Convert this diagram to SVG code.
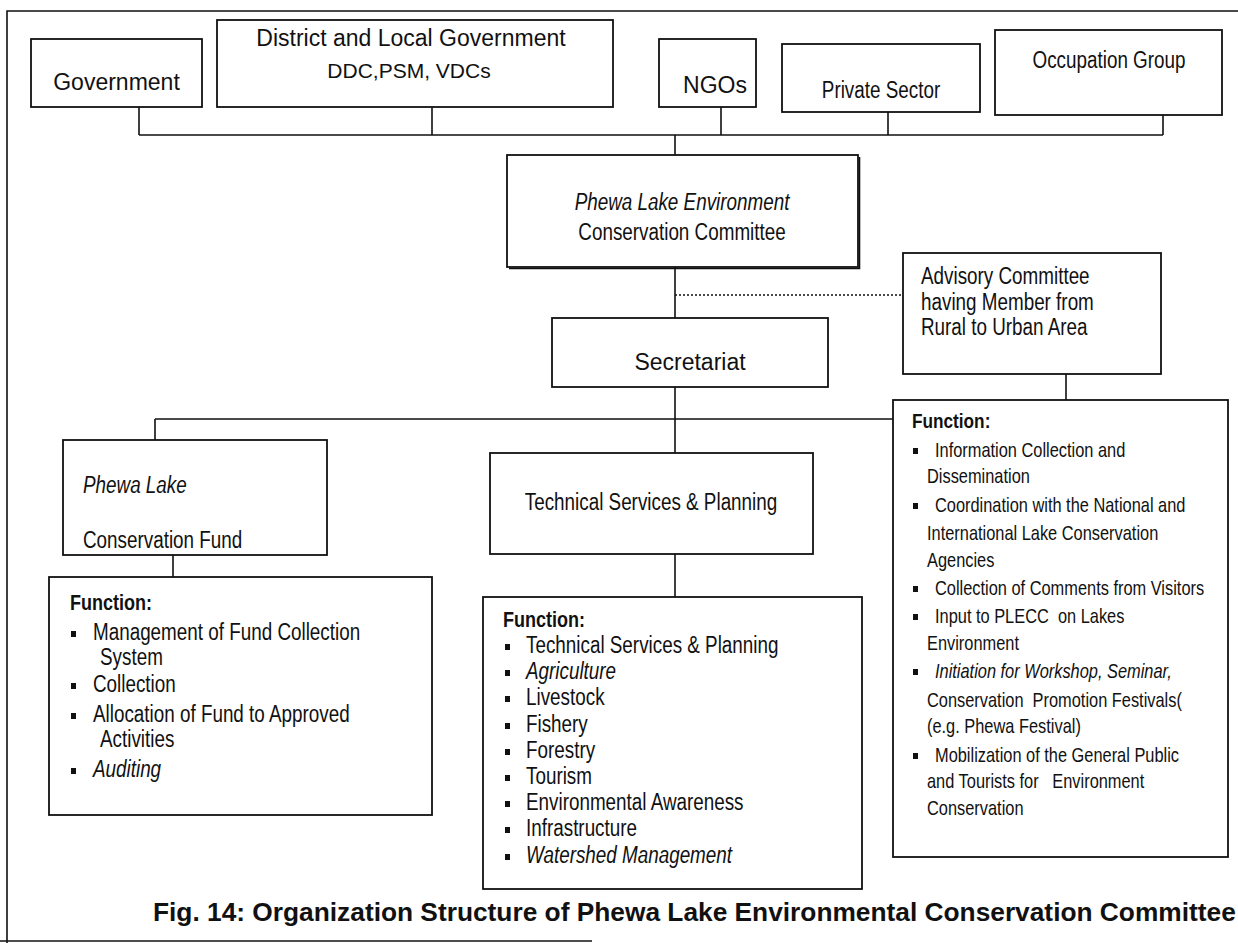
<svg xmlns="http://www.w3.org/2000/svg" width="1238" height="943" viewBox="0 0 1238 943">
<style>
.box{fill:none;stroke:#111;stroke-width:1.8}
.ln{fill:none;stroke:#111;stroke-width:1.6}
.dot{fill:none;stroke:#111;stroke-width:1.3;stroke-dasharray:2 2}
.r{font-family:"Liberation Sans",Arial,sans-serif;fill:#111}
.n{font-family:"Liberation Sans",Arial,sans-serif;fill:#111}
.c{text-anchor:middle}
.i{font-style:italic}
.b{font-weight:bold}
.bul{fill:#111}
.f23{font-size:23px}
.f20{font-size:20px}
</style>
<rect width="1238" height="943" fill="#fff"/>
<g id="frame">
<path class="ln" d="M7,943 V11 H1238" stroke-width="2.5"/>
<path class="ln" d="M0,941 H592" stroke-width="2"/>
</g>
<g id="connectors">
<path class="ln" d="M139,135 H1163 M139,107 V135 M432,107 V135 M721,107 V135 M888,112 V135 M1163,115 V135 M675,135 V155"/>
<path class="ln" d="M675,267 V318 M675,387 V453 M155,419 H893 M155,419 V440 M1066,374 V400 M173,555 V577 M675,554 V597"/>
<path class="dot" d="M675,295 H903"/>
</g>
<g id="government">
<rect class="box" x="31" y="39" width="171" height="68"/>
<text class="r c" x="116.5" y="90" font-size="23">Government</text>
</g>
<g id="district">
<rect class="box" x="217" y="20" width="396" height="87"/>
<text class="r c" x="411" y="46" font-size="23">District and Local Government</text>
<text class="r c" x="409" y="78" font-size="21">DDC,PSM, VDCs</text>
</g>
<g id="ngos">
<rect class="box" x="659" y="39" width="97" height="68"/>
<text class="r c" x="715" y="93" font-size="23">NGOs</text>
</g>
<g id="private">
<rect class="box" x="782" y="44" width="198" height="68"/>
<text class="n c f23" transform="translate(881,98) scale(0.82,1)">Private Sector</text>
</g>
<g id="occupation">
<rect class="box" x="995" y="30" width="227" height="85"/>
<text class="n c f23" transform="translate(1109,68) scale(0.82,1)">Occupation Group</text>
</g>
<g id="plecc">
<rect class="box" x="507" y="155" width="351" height="112" stroke-width="2"/>
<path class="ln" d="M509,268.5 H859.5 V157" stroke-width="2.5"/>
<text class="n c i f23" transform="translate(682,210) scale(0.82,1)">Phewa Lake Environment</text>
<text class="n c f23" transform="translate(682,240) scale(0.82,1)">Conservation Committee</text>
</g>
<g id="secretariat">
<rect class="box" x="552" y="318" width="276" height="69"/>
<text class="r c" x="690" y="370" font-size="23">Secretariat</text>
</g>
<g id="advisory">
<rect class="box" x="903" y="253" width="258" height="121"/>
<text class="n f23" transform="translate(921,284) scale(0.82,1)">Advisory Committee</text>
<text class="n f23" transform="translate(921,310) scale(0.82,1)">having Member from</text>
<text class="n f23" transform="translate(921,335) scale(0.82,1)">Rural to Urban Area</text>
</g>
<g id="fund">
<rect class="box" x="63" y="440" width="264" height="115"/>
<text class="n i f23" transform="translate(83,493) scale(0.82,1)">Phewa Lake</text>
<text class="n f23" transform="translate(83,548) scale(0.82,1)">Conservation Fund</text>
</g>
<g id="tsp">
<rect class="box" x="490" y="453" width="323" height="101"/>
<text class="n c f23" transform="translate(651,510) scale(0.82,1)">Technical Services &amp; Planning</text>
</g>
<g id="fund-functions">
<rect class="box" x="49" y="577" width="383" height="238"/>
<text class="n b" transform="translate(70,610) scale(0.82,1)" font-size="22">Function:</text>
<rect class="bul" x="71" y="631" width="5" height="6"/>
<text class="n f23" transform="translate(93,640) scale(0.82,1)">Management of Fund Collection</text>
<text class="n f23" transform="translate(100,665) scale(0.82,1)">System</text>
<rect class="bul" x="71" y="683" width="5" height="6"/>
<text class="n f23" transform="translate(93,692) scale(0.82,1)">Collection</text>
<rect class="bul" x="71" y="713" width="5" height="6"/>
<text class="n f23" transform="translate(93,722) scale(0.82,1)">Allocation of Fund to Approved</text>
<text class="n f23" transform="translate(100,747) scale(0.82,1)">Activities</text>
<rect class="bul" x="71" y="768" width="5" height="6"/>
<text class="n i f23" transform="translate(93,777) scale(0.82,1)">Auditing</text>
</g>
<g id="tsp-functions">
<rect class="box" x="483" y="597" width="379" height="292"/>
<text class="n b" transform="translate(503,627) scale(0.82,1)" font-size="22">Function:</text>
<g class="bul">
<rect x="505" y="644" width="5" height="6"/>
<rect x="505" y="670" width="5" height="6"/>
<rect x="505" y="696" width="5" height="6"/>
<rect x="505" y="723" width="5" height="6"/>
<rect x="505" y="749" width="5" height="6"/>
<rect x="505" y="775" width="5" height="6"/>
<rect x="505" y="801" width="5" height="6"/>
<rect x="505" y="827" width="5" height="6"/>
<rect x="505" y="854" width="5" height="6"/>
</g>
<text class="n f23" transform="translate(526,653) scale(0.82,1)">Technical Services &amp; Planning</text>
<text class="n i f23" transform="translate(526,679) scale(0.82,1)">Agriculture</text>
<text class="n f23" transform="translate(526,705) scale(0.82,1)">Livestock</text>
<text class="n f23" transform="translate(526,732) scale(0.82,1)">Fishery</text>
<text class="n f23" transform="translate(526,758) scale(0.82,1)">Forestry</text>
<text class="n f23" transform="translate(526,784) scale(0.82,1)">Tourism</text>
<text class="n f23" transform="translate(526,810) scale(0.82,1)">Environmental Awareness</text>
<text class="n f23" transform="translate(526,836) scale(0.82,1)">Infrastructure</text>
<text class="n i f23" transform="translate(526,863) scale(0.82,1)">Watershed Management</text>
</g>
<g id="advisory-functions">
<rect class="box" x="893" y="400" width="335" height="457"/>
<text class="n b" transform="translate(912,428) scale(0.82,1)" font-size="21">Function:</text>
<g class="bul">
<rect x="913" y="448" width="5" height="6"/>
<rect x="913" y="503" width="5" height="6"/>
<rect x="913" y="586" width="5" height="6"/>
<rect x="913" y="614" width="5" height="6"/>
<rect x="913" y="669" width="5" height="6"/>
<rect x="913" y="753" width="5" height="6"/>
</g>
<text class="n f20" transform="translate(935,457) scale(0.82,1)">Information Collection and</text>
<text class="n f20" transform="translate(927,483) scale(0.82,1)">Dissemination</text>
<text class="n f20" transform="translate(935,512) scale(0.82,1)">Coordination with the National and</text>
<text class="n f20" transform="translate(927,540) scale(0.82,1)">International Lake Conservation</text>
<text class="n f20" transform="translate(927,567) scale(0.82,1)">Agencies</text>
<text class="n f20" transform="translate(935,595) scale(0.82,1)">Collection of Comments from Visitors</text>
<text class="n f20" transform="translate(935,623) scale(0.82,1)" xml:space="preserve">Input to PLECC  on Lakes</text>
<text class="n f20" transform="translate(927,650) scale(0.82,1)">Environment</text>
<text class="n i f20" transform="translate(935,678) scale(0.82,1)">Initiation for Workshop, Seminar,</text>
<text class="n f20" transform="translate(927,707) scale(0.82,1)" xml:space="preserve">Conservation  Promotion Festivals(</text>
<text class="n f20" transform="translate(927,733) scale(0.82,1)">(e.g. Phewa Festival)</text>
<text class="n f20" transform="translate(935,762) scale(0.82,1)">Mobilization of the General Public</text>
<text class="n f20" transform="translate(927,788) scale(0.82,1)" xml:space="preserve">and Tourists for   Environment</text>
<text class="n f20" transform="translate(927,815) scale(0.82,1)">Conservation</text>
</g>
<g id="caption">
<text class="r b" x="153" y="921" font-size="26.3">Fig. 14: Organization Structure of Phewa Lake Environmental Conservation Committee</text>
</g>
</svg>
